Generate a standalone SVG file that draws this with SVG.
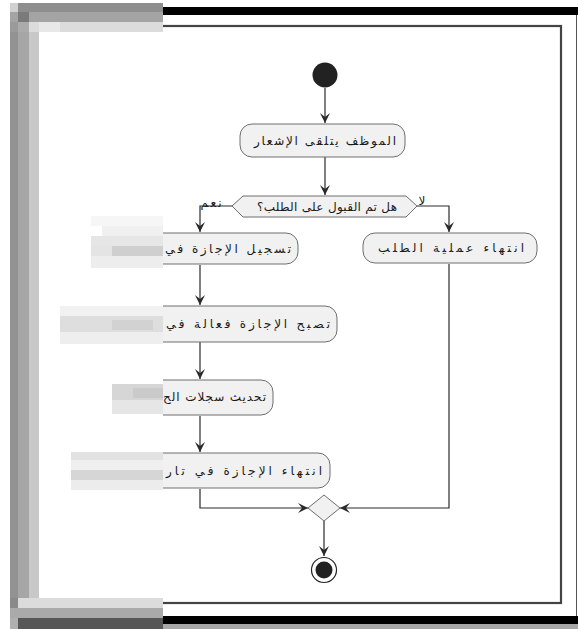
<svg xmlns="http://www.w3.org/2000/svg" width="578" height="629" viewBox="0 0 578 629">
  <style>
    .act { fill: #f1f1f1; stroke: #6e6e6e; stroke-width: 1; }
    .lbl { font-family: "DejaVu Sans", sans-serif; font-size: 12px; fill: #1a1a1a; }
    .edge { fill: none; stroke: #2a2a2a; stroke-width: 1.2; }
    .pix { shape-rendering: crispEdges; }
  </style>
  <defs>
    <marker id="arrow" viewBox="0 0 10 10" refX="10" refY="5" markerWidth="10" markerHeight="10" markerUnits="userSpaceOnUse" orient="auto">
      <path d="M0,0 L10,5 L0,10 L4,5 Z" fill="#2a2a2a"/>
    </marker>
  </defs>

  <rect width="578" height="629" fill="#ffffff"/>

  <!-- frame -->
  <g id="frame">
    <rect x="10" y="7" width="568" height="8" fill="#000000"/>
    <rect x="10" y="616" width="568" height="8" fill="#000000"/>
    <rect x="10" y="624" width="568" height="5" fill="#a8a8a8"/>
    <line x1="576.5" y1="15" x2="576.5" y2="616" stroke="#555555" stroke-width="1"/>
    <rect x="40" y="26" width="521" height="577" fill="none" stroke="#444444" stroke-width="2.2"/>
  </g>

  <!-- connectors -->
  <g id="connectors">
    <path class="edge" d="M325,88 V123" marker-end="url(#arrow)"/>
    <path class="edge" d="M325,157 V195" marker-end="url(#arrow)"/>
    <path class="edge" d="M232,206 H200 V232" marker-end="url(#arrow)"/>
    <path class="edge" d="M417,206 H449 V232" marker-end="url(#arrow)"/>
    <path class="edge" d="M200,265 V305" marker-end="url(#arrow)"/>
    <path class="edge" d="M200,342 V379" marker-end="url(#arrow)"/>
    <path class="edge" d="M200,416 V452" marker-end="url(#arrow)"/>
    <path class="edge" d="M200,489 V508 H308" marker-end="url(#arrow)"/>
    <path class="edge" d="M449,264 V508 H340" marker-end="url(#arrow)"/>
    <path class="edge" d="M324,521 V556" marker-end="url(#arrow)"/>
    <text class="lbl" x="211" y="207" text-anchor="middle" font-size="10.5" textLength="21" lengthAdjust="spacing">نعم</text>
    <text class="lbl" x="422" y="205" text-anchor="middle" font-size="10.5">لا</text>
  </g>

  <g id="start">
    <circle cx="325" cy="75" r="12.5" fill="#222222"/>
  </g>

  <g id="receive">
    <rect class="act" x="240" y="124" width="165" height="33" rx="12"/>
    <text class="lbl" x="325" y="145" text-anchor="middle" textLength="142" lengthAdjust="spacing">الموظف يتلقى الإشعار</text>
  </g>

  <g id="decision">
    <polygon class="act" points="232,206 243,196 406,196 417,206 406,217 243,217"/>
    <text class="lbl" x="327" y="211" text-anchor="middle" textLength="140" lengthAdjust="spacing">هل تم القبول على الطلب؟</text>
  </g>

  <g id="register">
    <rect class="act" x="102" y="233" width="196" height="31" rx="12"/>
    <text class="lbl" x="291" y="253" direction="rtl" text-anchor="start" textLength="126" lengthAdjust="spacing">تسجيل الإجازة في</text>
  </g>

  <g id="effective">
    <rect class="act" x="63" y="306" width="274" height="36" rx="12"/>
    <text class="lbl" x="330" y="328" direction="rtl" text-anchor="start" textLength="164" lengthAdjust="spacing">تصبح الإجازة فعالة في</text>
  </g>

  <g id="update">
    <rect class="act" x="127" y="380" width="146" height="35" rx="12"/>
    <text class="lbl" x="266" y="401" direction="rtl" text-anchor="start" textLength="103" lengthAdjust="spacing">تحديث سجلات الح</text>
  </g>

  <g id="leave-end">
    <rect class="act" x="70" y="453" width="260" height="35" rx="12"/>
    <text class="lbl" x="322" y="475" direction="rtl" text-anchor="start" textLength="156" lengthAdjust="spacing">انتهاء الإجازة في تار</text>
  </g>

  <g id="request-end">
    <rect class="act" x="363" y="233" width="174" height="30" rx="12"/>
    <text class="lbl" x="451" y="252" text-anchor="middle" textLength="146" lengthAdjust="spacing">انتهاء عملية الطلب</text>
  </g>

  <g id="merge">
    <polygon class="act" points="324,495 340,508 324,521 308,508"/>
  </g>

  <g id="end">
    <circle cx="324" cy="570" r="12.5" fill="#ffffff" stroke="#222222" stroke-width="1.2"/>
    <circle cx="324" cy="570" r="8.5" fill="#222222"/>
  </g>

  <!-- coarse pixel blocks along the left strip -->
  <g id="mosaic" class="pix">
    <rect x="10" y="3" width="153" height="626" fill="#ffffff"/>
    <!-- top rows -->
    <rect x="18" y="3" width="145" height="9" fill="#8e8e8e"/>
    <rect x="10" y="3" width="8" height="9" fill="#d0d0d0"/>
    <rect x="10" y="12" width="153" height="10" fill="#a4a4a4"/>
    <rect x="18" y="12" width="11" height="10" fill="#7a7a7a"/>
    <rect x="10" y="22" width="153" height="10" fill="#dcdcdc"/>
    <rect x="10" y="22" width="8" height="10" fill="#9a9a9a"/>
    <rect x="18" y="22" width="11" height="10" fill="#ababab"/>
    <rect x="39" y="22" width="21" height="10" fill="#e8e8e8"/>
    <!-- left columns -->
    <rect x="10" y="32" width="8" height="566" fill="#929292"/>
    <rect x="18" y="32" width="11" height="566" fill="#a6a6a6"/>
    <rect x="29" y="32" width="10" height="566" fill="#c8c8c8"/>
    <!-- faint interior blocks -->
    <rect x="91" y="216" width="72" height="10" fill="#f6f6f6"/>
    <rect x="102" y="226" width="61" height="10" fill="#f0f0f0"/>
    <rect x="91" y="236" width="72" height="10" fill="#e6e6e6"/>
    <rect x="112" y="246" width="51" height="10" fill="#cfcfcf"/>
    <rect x="91" y="246" width="21" height="10" fill="#e4e4e4"/>
    <rect x="91" y="256" width="72" height="12" fill="#ededed"/>
    <rect x="60" y="306" width="103" height="10" fill="#f1f1f1"/>
    <rect x="60" y="316" width="103" height="16" fill="#dedede"/>
    <rect x="112" y="320" width="41" height="10" fill="#d2d2d2"/>
    <rect x="60" y="332" width="103" height="12" fill="#eeeeee"/>
    <rect x="112" y="384" width="51" height="16" fill="#d6d6d6"/>
    <rect x="133" y="388" width="30" height="10" fill="#cacaca"/>
    <rect x="112" y="400" width="51" height="14" fill="#e6e6e6"/>
    <rect x="71" y="452" width="92" height="8" fill="#e2e2e2"/>
    <rect x="71" y="460" width="92" height="10" fill="#efefef"/>
    <rect x="71" y="470" width="92" height="10" fill="#d6d6d6"/>
    <rect x="71" y="480" width="92" height="10" fill="#ececec"/>
    <!-- bottom rows -->
    <rect x="10" y="598" width="153" height="10" fill="#dcdcdc"/>
    <rect x="10" y="598" width="8" height="10" fill="#8a8a8a"/>
    <rect x="10" y="608" width="153" height="10" fill="#aaaaaa"/>
    <rect x="10" y="618" width="153" height="11" fill="#575757"/>
    <rect x="10" y="618" width="8" height="11" fill="#b0b0b0"/>
  </g>
</svg>
